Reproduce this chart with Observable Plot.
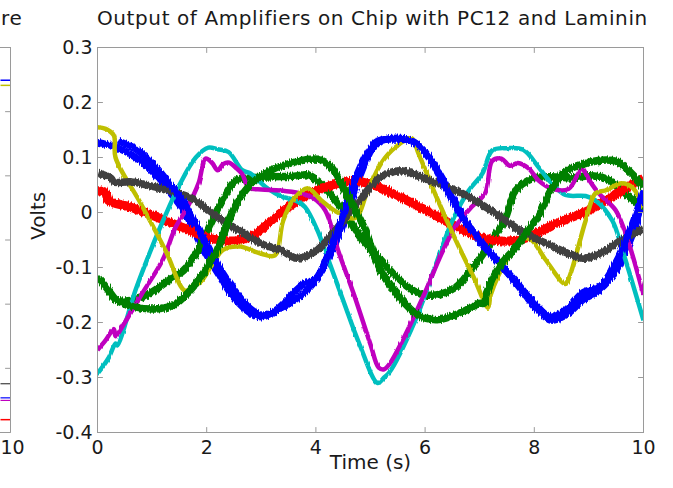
<!DOCTYPE html>
<html>
<head>
<meta charset="utf-8">
<script src="https://cdn.jsdelivr.net/npm/d3@7"></script>
<script src="https://cdn.jsdelivr.net/npm/@observablehq/plot@0.6"></script>
<style>
  html, body { margin: 0; padding: 0; background: white; }
  #wrap { position: relative; width: 673px; height: 488px; overflow: hidden; background: white;
          font-family: "DejaVu Sans", sans-serif; color: #1a1a1a; }
  #title { position: absolute; left: 97px; top: 0; width: 546px; height: 40px; line-height: 36px;
           text-align: center; font-size: 20px; letter-spacing: 0.6px; white-space: nowrap; }
  #lefttitle { position: absolute; left: 1px; top: 0; height: 40px; line-height: 36px; font-size: 20px; letter-spacing: 0.6px; }
  #main { position: absolute; left: 0; top: 40px; }
  #left { position: absolute; left: 0; top: 40px; }
  g[aria-description="thick"] path { filter: url(#nThick); }
  g[aria-description="thin"] path { filter: url(#nThin); }
</style>
</head>
<body>
<svg width="0" height="0" style="position:absolute">
  <defs>
    <filter id="nThick" x="-3%" y="-15%" width="106%" height="130%">
      <feTurbulence type="fractalNoise" baseFrequency="0.9 0.06" numOctaves="2" seed="4" result="t"/>
      <feDisplacementMap in="SourceGraphic" in2="t" scale="5" xChannelSelector="G" yChannelSelector="R"/>
    </filter>
    <filter id="nThin" x="-3%" y="-15%" width="106%" height="130%">
      <feTurbulence type="fractalNoise" baseFrequency="0.9 0.06" numOctaves="2" seed="7" result="t"/>
      <feDisplacementMap in="SourceGraphic" in2="t" scale="2.5" xChannelSelector="G" yChannelSelector="R"/>
    </filter>
  </defs>
</svg>
<div id="wrap">
  <div id="lefttitle">re</div>
  <div id="title">Output of Amplifiers on Chip with PC12 and Laminin</div>
  <div id="main"></div>
  <div id="left"></div>
</div>
<script>
// ---------- texts ----------
const titleText = "Output of Amplifiers on Chip with PC12 and Laminin";
const xLabel = "Time (s)";
const yLabel = "Volts";

// ---------- ticks ----------
const xTicks = [0, 2, 4, 6, 8, 10];
const xTickLabels = ["0", "2", "4", "6", "8", "10"];
const yTicks = [-0.4, -0.3, -0.2, -0.1, 0, 0.1, 0.2, 0.3];
const yTickLabels = ["-0.4", "-0.3", "-0.2", "-0.1", "0", "0.1", "0.2", "0.3"];
const leftYTicks = [-0.3, -0.2, -0.1, 0, 0.1, 0.2, 0.3];
const leftXTicks = [10];
const leftXTickLabels = ["10"];

// ---------- main panel series: [time (s), volts] ----------
const blueA = [[0,0.128],[0.35,0.118],[0.7,0.10],[1.0,0.075],[1.3,0.04],[1.6,0.0],[1.9,-0.06],[2.2,-0.11],[2.5,-0.155],[2.8,-0.183],[3.0,-0.19],[3.3,-0.178],[3.6,-0.16],[3.9,-0.135],[4.2,-0.09],[4.5,-0.02],[4.8,0.065],[5.1,0.125],[5.4,0.135],[5.7,0.132],[6.0,0.11],[6.3,0.065],[6.6,0.01],[6.9,-0.04],[7.2,-0.075],[7.6,-0.12],[8.0,-0.17],[8.3,-0.196],[8.6,-0.185],[8.9,-0.158],[9.2,-0.14],[9.5,-0.105],[9.8,-0.04],[10,0.02]];
const blueB = [[0.38,0.13],[0.7,0.115],[1.0,0.09],[1.3,0.055],[1.6,0.015],[1.9,-0.04],[2.2,-0.095],[2.5,-0.14],[2.8,-0.175],[3.05,-0.188],[3.3,-0.175],[3.6,-0.145],[3.8,-0.128],[4.0,-0.12],[4.25,-0.07],[4.5,-0.005],[4.8,0.08],[5.1,0.128],[5.4,0.133],[5.8,0.128],[6.1,0.095],[6.4,0.04],[6.7,-0.01],[7.0,-0.05],[7.3,-0.085],[7.7,-0.13],[8.0,-0.165],[8.3,-0.19],[8.6,-0.175],[8.9,-0.145],[9.2,-0.135],[9.5,-0.09],[9.8,-0.02],[10,0.04]];
const greenA = [[0,-0.118],[0.15,-0.135],[0.3,-0.155],[0.35,-0.16],[0.6,-0.16],[0.9,-0.15],[1.1,-0.138],[1.35,-0.12],[1.58,-0.105],[1.9,-0.057],[2.1,-0.015],[2.29,0.022],[2.53,0.058],[2.8,0.063],[3.2,0.065],[3.6,0.066],[3.87,0.068],[4.17,0.045],[4.5,0.004],[4.85,-0.05],[5.18,-0.085],[5.5,-0.12],[5.8,-0.143],[6.0,-0.15],[6.3,-0.148],[6.56,-0.136],[6.8,-0.11],[7.1,-0.07],[7.45,-0.015],[7.66,0.04],[7.97,0.062],[8.3,0.065],[8.7,0.063],[9.0,0.067],[9.3,0.062],[9.6,0.04],[9.85,0.02],[10,0.005]];
const greenB = [[0.33,-0.158],[0.6,-0.17],[1.1,-0.175],[1.4,-0.168],[1.65,-0.147],[1.94,-0.11],[2.07,-0.087],[2.16,-0.075],[2.4,-0.015],[2.6,0.025],[2.85,0.055],[3.2,0.078],[3.55,0.09],[3.9,0.097],[4.1,0.095],[4.3,0.08],[4.5,0.045],[4.85,-0.02],[5.18,-0.105],[5.5,-0.15],[5.85,-0.185],[6.2,-0.195],[6.5,-0.188],[6.8,-0.175],[7.0,-0.165],[7.08,-0.165],[7.12,-0.148],[7.4,-0.093],[7.66,-0.064],[7.9,-0.03],[8.05,-0.01],[8.33,0.045],[8.57,0.075],[8.9,0.088],[9.2,0.095],[9.5,0.093],[9.85,0.064],[10,0.045]];
const red = [[0,0.04],[0.15,0.035],[0.2,0.022],[0.6,0.01],[1.0,-0.005],[1.5,-0.025],[2.0,-0.045],[2.4,-0.052],[2.8,-0.045],[3.3,-0.005],[3.8,0.03],[4.3,0.05],[4.7,0.057],[5.0,0.052],[5.5,0.03],[6.0,0.005],[6.5,-0.022],[7.0,-0.045],[7.4,-0.052],[7.8,-0.048],[8.0,-0.04],[8.4,-0.02],[9.0,0.004],[9.6,0.04],[10,0.062]];
const cyan = [[0,-0.293],[0.2,-0.265],[0.33,-0.238],[0.36,-0.242],[0.7,-0.14],[0.97,-0.07],[1.2,-0.015],[1.5,0.05],[1.8,0.1],[2.03,0.118],[2.2,0.115],[2.4,0.11],[2.65,0.077],[2.8,0.071],[3.1,0.045],[3.35,0.03],[3.63,0.022],[3.8,0.01],[4.03,-0.033],[4.17,-0.07],[4.5,-0.16],[4.8,-0.24],[5.13,-0.31],[5.25,-0.3],[5.35,-0.29],[5.82,-0.196],[6.5,-0.015],[6.8,0.04],[7.05,0.071],[7.23,0.113],[7.5,0.117],[7.8,0.114],[8.08,0.082],[8.3,0.055],[8.57,0.032],[8.94,0.03],[9.12,0.022],[9.43,-0.015],[9.6,-0.064],[10,-0.196]];
const magenta = [[0,-0.25],[0.15,-0.232],[0.3,-0.212],[0.33,-0.225],[0.5,-0.2],[0.8,-0.15],[1.19,-0.087],[1.43,-0.027],[1.65,0.01],[1.85,0.053],[1.98,0.098],[2.1,0.09],[2.2,0.077],[2.3,0.088],[2.4,0.091],[2.55,0.08],[2.65,0.07],[2.77,0.045],[3.0,0.042],[3.35,0.04],[3.7,0.035],[3.94,0.027],[4.17,0.004],[4.41,-0.07],[4.7,-0.15],[5.0,-0.24],[5.15,-0.282],[5.25,-0.285],[5.35,-0.275],[5.6,-0.23],[6.0,-0.145],[6.3,-0.075],[6.56,-0.025],[6.85,0.01],[7.1,0.035],[7.23,0.094],[7.4,0.098],[7.55,0.085],[7.7,0.09],[7.9,0.08],[8.08,0.058],[8.33,0.043],[8.63,0.043],[8.8,0.07],[8.88,0.08],[9.0,0.06],[9.18,0.035],[9.49,0.004],[9.73,-0.056],[10,-0.15]];
const yellow = [[0,0.155],[0.15,0.152],[0.3,0.14],[0.33,0.10],[0.8,0.015],[1.25,-0.07],[1.6,-0.142],[1.75,-0.135],[1.9,-0.125],[2.1,-0.095],[2.3,-0.068],[2.6,-0.062],[3.0,-0.075],[3.25,-0.078],[3.4,-0.015],[3.6,0.025],[3.85,0.044],[4.1,0.022],[4.4,0.0],[4.72,-0.01],[4.95,0.04],[5.2,0.09],[5.45,0.118],[5.75,0.135],[5.88,0.107],[6.2,0.03],[6.56,-0.05],[6.9,-0.12],[7.15,-0.173],[7.2,-0.15],[7.5,-0.085],[7.8,-0.047],[7.95,-0.05],[8.2,-0.085],[8.57,-0.13],[8.65,-0.115],[8.94,-0.015],[9.12,0.035],[9.3,0.04],[9.6,0.053],[9.8,0.045],[10,0.01]];
const gray = [[0,0.072],[0.25,0.062],[0.3,0.055],[0.6,0.056],[1.1,0.045],[1.7,0.027],[2.2,-0.009],[2.6,-0.033],[3.0,-0.057],[3.35,-0.068],[3.65,-0.083],[4.0,-0.07],[4.5,-0.015],[4.9,0.035],[5.18,0.064],[5.55,0.076],[6.1,0.058],[6.7,0.034],[7.2,0.004],[7.75,-0.033],[8.24,-0.057],[8.9,-0.083],[9.2,-0.075],[9.6,-0.05],[10,-0.03]];

// ---------- left (cut-off) panel: flat traces at its right edge ----------
const leftBlueTop = [[9.8,0.249],[10,0.249]];
const leftYellowTop = [[9.8,0.241],[10,0.241]];
const leftGrayLow = [[9.8,-0.224],[10,-0.224]];
const leftBlueLow = [[9.8,-0.246],[10,-0.246]];
const leftMagentaLow = [[9.8,-0.250],[10,-0.250]];
const leftRedLow = [[9.8,-0.280],[10,-0.280]];

// ---------- styling ----------
const C = {blue:"#0000ff", green:"#008000", red:"#ff0000", cyan:"#00bfbf", magenta:"#bf00bf", yellow:"#bfbf00", gray:"#404040"};
const axisColor = "#9a9a9a";
const textColor = "#1a1a1a";
const font = "DejaVu Sans";
const tickShape = {draw(context, l) { context.moveTo(0, 0); context.lineTo(0, -l); }};

function line(data, color, w, kind) {
  return Plot.line(data, {x: d => d[0], y: d => d[1], stroke: color, strokeWidth: w,
    curve: "catmull-rom", strokeLinejoin: "round", strokeLinecap: "butt", clip: true,
    ariaDescription: kind});
}
function inwardTicks(xt, yt, len) {
  const common = {length: len, anchor: "start", shape: tickShape, stroke: axisColor, strokeWidth: 1};
  return [
    Plot.vector(xt, {x: d => d, frameAnchor: "bottom", rotate: 0, ...common}),
    Plot.vector(xt, {x: d => d, frameAnchor: "top", rotate: 180, ...common}),
    Plot.vector(yt, {y: d => d, frameAnchor: "left", rotate: 90, ...common}),
    Plot.vector(yt, {y: d => d, frameAnchor: "right", rotate: -90, ...common})
  ];
}

const mainPlot = Plot.plot({
  width: 673, height: 448,
  marginTop: 7, marginBottom: 56, marginLeft: 97, marginRight: 30,
  x: {domain: [0, 10]},
  y: {domain: [-0.4, 0.3]},
  style: {fontFamily: font, fontSize: "19px", color: textColor, background: "white", overflow: "visible"},
  marks: [
    line(blueA, C.blue, 7, "thick"),
    line(greenA, C.green, 7.5, "thick"),
    line(red, C.red, 9, "thick"),
    line(cyan, C.cyan, 4.5, "thin"),
    line(magenta, C.magenta, 4.5, "thin"),
    line(yellow, C.yellow, 4.5, "thin"),
    line(gray, C.gray, 7.5, "thick"),
    line(blueB, C.blue, 7, "thick"),
    line(greenB, C.green, 7.5, "thick"),
    Plot.frame({stroke: axisColor, strokeWidth: 1}),
    ...inwardTicks(xTicks, yTicks, 5),
    Plot.axisX(xTicks, {tickSize: 0, tickPadding: 8, fontSize: 19, fill: textColor,
      tickFormat: d => xTickLabels[xTicks.indexOf(d)]}),
    Plot.axisY(yTicks, {tickSize: 0, tickPadding: 5, fontSize: 19, fill: textColor,
      tickFormat: d => yTickLabels[yTicks.indexOf(d)]}),
    Plot.text([xLabel], {text: d => d, frameAnchor: "bottom", dy: 36, fontSize: 20, fill: textColor}),
    Plot.text([yLabel], {text: d => d, frameAnchor: "left", dx: -59, rotate: -90, fontSize: 20, fill: textColor})
  ]
});
document.getElementById("main").appendChild(mainPlot);

// Left panel: only its right-most sliver is visible in the reference
const leftPlot = Plot.plot({
  width: 40, height: 448,
  marginTop: 7, marginBottom: 56, marginLeft: 0, marginRight: 30,
  x: {domain: [9.8, 10]},
  y: {domain: [-0.3, 0.3]},
  style: {fontFamily: font, fontSize: "19px", color: textColor, background: "transparent", overflow: "visible"},
  marks: [
    line(leftBlueTop, C.blue, 1.5, "plain"),
    line(leftYellowTop, C.yellow, 1.5, "plain"),
    line(leftGrayLow, C.gray, 1.2, "plain"),
    line(leftBlueLow, C.blue, 1.2, "plain"),
    line(leftMagentaLow, C.magenta, 1.2, "plain"),
    line(leftRedLow, C.red, 1.5, "plain"),
    Plot.ruleY([-0.3, 0.3], {stroke: axisColor, strokeWidth: 1}),
    Plot.ruleX(leftXTicks, {stroke: axisColor, strokeWidth: 1}),
    Plot.vector(leftYTicks, {y: d => d, frameAnchor: "right", rotate: -90, length: 5, anchor: "start",
      shape: tickShape, stroke: axisColor, strokeWidth: 1}),
    Plot.axisX(leftXTicks, {tickSize: 0, tickPadding: 8, fontSize: 19, fill: textColor, dx: 2,
      tickFormat: d => leftXTickLabels[leftXTicks.indexOf(d)]})
  ]
});
document.getElementById("left").appendChild(leftPlot);
</script>
</body>
</html>
